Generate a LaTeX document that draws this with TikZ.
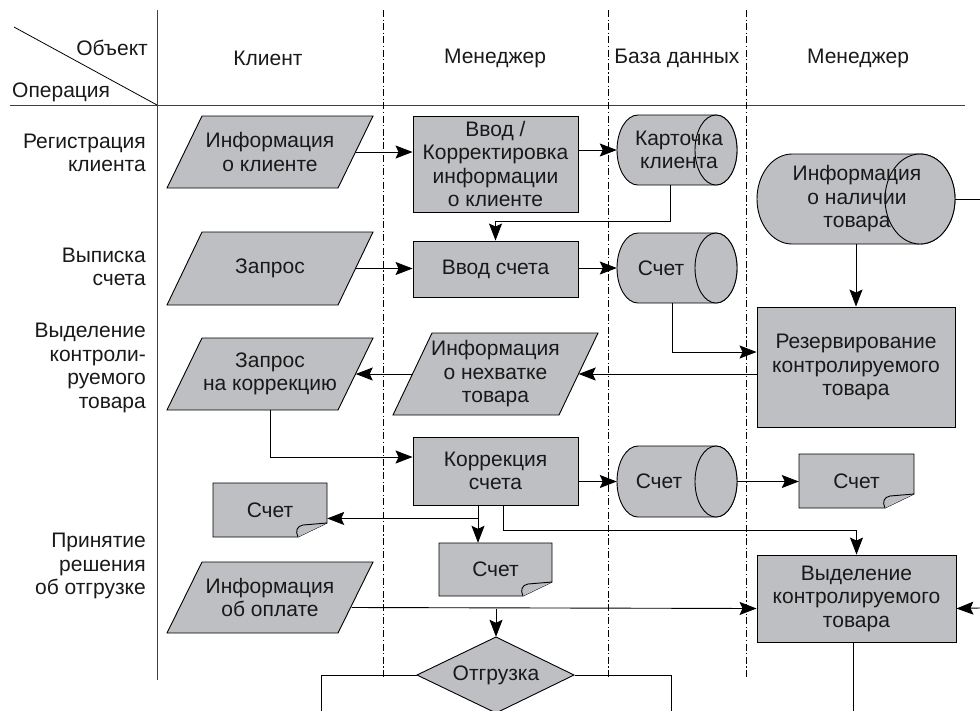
\documentclass[tikz,border=0pt]{standalone}
\usepackage{fontspec}
\setmainfont{Liberation Sans}
\usetikzlibrary{arrows.meta,calc}
\definecolor{shapegray}{RGB}{190,191,194}
\newcommand\parabox[7]{%
  \draw[shp] ({#2+#6},#3) -- (#4,#3) -- ({#4-#6},#5) -- (#2,#5) -- cycle;
  \node[txt, minimum width={#4-#2-#6}, minimum height={#5-#3}] (#1) at ({(#2+#4)/2},{(#3+#5)/2}) {#7};
}
\newcommand\rectbox[6]{%
  \node[txt, shp, minimum width={#4-#2}, minimum height={#5-#3}] (#1) at ({(#2+#4)/2},{(#3+#5)/2}) {#6};
}
\newcommand\docbox[6]{%
  \draw[shp] (#2,#3) -- (#4,#3) -- (#4,{#5-14}) -- ({#4-29},#5) -- (#2,#5) -- cycle;
  \draw[shp] ({#4-29},#5) .. controls ({#4-32},{#5-6}) and ({#4-30},{#5-11}) .. ({#4-24},{#5-12}) -- (#4,{#5-14});
  \node[txt, minimum width={#4-#2}, minimum height={#5-#3}] (#1) at ({(#2+#4)/2},{(#3+#5)/2}) {#6};
}
\newcommand\cylbox[8]{%
  \pgfmathsetmacro\cymid{(#3+#5)/2}%
  \pgfmathsetmacro\cyry{(#5-#3)/2}%
  \draw[shp] ({#2+#6},#3) -- ({#4-#6},#3) arc[start angle=-90, end angle=90, x radius=#6, y radius=\cyry] -- ({#2+#6},#5) arc[start angle=90, end angle=270, x radius=#6, y radius=\cyry] -- cycle;
  \draw[shp] ({#4-#6},\cymid) ellipse [x radius=#6, y radius=\cyry];
  \node[inner sep=0pt, minimum width={#4-#2}, minimum height={#5-#3}] (#1) at ({(#2+#4)/2},\cymid) {};
  \node[txt] at (#8,\cymid) {#7};
}
\begin{document}
\begin{tikzpicture}[x=1pt,y=-1pt,
  shp/.style={draw=black, fill=shapegray, line width=0.9pt},
  txt/.style={font=\fontsize{21}{23.5}\selectfont, align=center, inner sep=0pt, text=black!90},
  lbl/.style={font=\fontsize{21}{23.5}\selectfont, inner sep=0pt, text=black!90},
  arr/.style={line width=0.9pt, -{Stealth[length=17pt,width=13pt,inset=3pt]}},
  ln/.style={line width=0.9pt},
  grid/.style={line width=1pt, black!75},
  dd/.style={line width=0.8pt, dash pattern=on 7pt off 2.5pt on 1.2pt off 2.5pt}]
\useasboundingbox (0,0) rectangle (980,710);

% header
\draw[grid] (157,10) -- (157,680);
\draw[grid] (10,105) -- (965,105);
\draw[line width=0.8pt] (14,27) -- (157,105);
\node[lbl, anchor=east] (hobj) at (148,48) {Объект};
\node[lbl, anchor=west] (hop) at (12,92) {Операция};
\node[lbl] (hc1) at (268,58) {Клиент};
\node[lbl] (hc2) at (495,58) {Менеджер};
\node[lbl] (hc3) at (677,58) {База данных};
\node[lbl] (hc4) at (858,58) {Менеджер};
\foreach \xx in {383,608,746} \draw[dd] (\xx,10) -- (\xx,678);

% row labels
\node[lbl, align=right, anchor=east] (r1) at (146,153) {Регистрация\\клиента};
\node[lbl, align=right, anchor=east] (r2) at (146,267) {Выписка\\счета};
\node[lbl, align=right, anchor=east] (r3) at (146,368) {Выделение\\контроли-\\руемого\\товара};
\node[lbl, align=right, anchor=east] (r4) at (146,566) {Принятие\\решения\\об отгрузке};

% shapes
\parabox{P1}{167}{116}{373}{188}{35}{Информация\\о клиенте}
\parabox{P5}{167}{232}{373}{305}{35}{Запрос}
\parabox{P10}{167}{338}{373}{410}{35}{Запрос\\на коррекцию}
\parabox{P9}{393}{333}{598}{415}{39}{Информация\\о нехватке\\товара}
\parabox{P16}{167}{562}{373}{633}{35}{Информация\\об оплате}

\rectbox{R2}{413}{116}{578}{212}{Ввод /\\Корректировка\\информации\\о клиенте}
\rectbox{R6}{413}{241}{578}{297}{Ввод счета}
\rectbox{R11}{413}{437}{578}{505}{Коррекция\\счета}
\rectbox{R8}{757}{307}{955}{427}{Резервирование\\контролируемого\\товара}
\rectbox{R17}{757}{555}{956}{642}{Выделение\\контролируемого\\товара}

\cylbox{C3}{617}{115}{737}{185}{21}{Карточка\\клиента}{679}
\cylbox{C7}{617}{233}{737}{303}{21}{Счет}{661}
\cylbox{C12}{617}{446}{737}{517}{21}{Счет}{659}
\cylbox{C4}{757}{154}{955}{244}{35}{Информация\\о наличии\\товара}{857}

\docbox{D13}{799}{454}{914}{508}{Счет}
\docbox{D14}{213}{483}{327}{537}{Счет}
\docbox{D15}{439}{543}{552}{596}{Счет}

\draw[shp] (417,675) -- (496,637) -- (574,675) -- (496,713) -- cycle;
\node[txt, minimum width=157pt, minimum height=76pt] (DD) at (496,675) {Отгрузка};

% free ends
\coordinate (eC4) at (980,199);
\coordinate (eR17) at (980,608);
\coordinate (eR17s) at (853,712);
\coordinate (eDl) at (321,712);
\coordinate (eDr) at (671,712);

% connectors
\draw[arr] (P1.east) -- (P1.east -| R2.west);
\draw[arr] (R2.east |- C3.west) -- (C3.west);
\draw[arr] ([xshift=-7pt]C3.south) |- ([yshift=19pt]R6.north) -- (R6.north);
\draw[arr] (P5.east) -- (P5.east -| R6.west);
\draw[arr] (R6.east |- C7.west) -- (C7.west);
\draw[ln] (C4.east) -- (eC4);
\draw[arr] (C4.south) -- (R8.north);
\draw[arr] ([xshift=-5pt]C7.south) |- ([yshift=15pt]R8.west);
\draw[arr] (R8.west |- P9.east) -- (P9.east);
\draw[arr] (P9.west) -- (P10.east);
\draw[arr] (P10.south) |- ([yshift=14pt]R11.west);
\draw[arr] (R11.east |- C12.west) -- (C12.west);
\draw[arr] (C12.east) -- (C12.east -| D13.west);
\coordinate (j1) at ([xshift=-17.5pt,yshift=-13pt]R11.south);
\draw[arr] ([xshift=-17.5pt]R11.south) -- ([xshift=-17.5pt]R11.south |- D15.north);
\draw[arr] (j1) -- (j1 -| D14.east);
\draw[arr] ([xshift=7.5pt]R11.south) -- ++(0,25) -| (R17.north);
\coordinate (y16) at ([yshift=-10pt]R17.west);
\draw[arr] ([xshift=-4pt,yshift=-10pt]P16.east) -- (y16);
\draw[arr] (DD.north |- y16) -- (DD.north);
\draw[arr] (eR17) -- ([yshift=-10pt]R17.east);
\draw[ln] ([xshift=-3.5pt]R17.south) -- (eR17s);
\draw[ln] (DD.west) -| (eDl);
\draw[ln] (DD.east) -| (eDr);
\end{tikzpicture}
\end{document}
